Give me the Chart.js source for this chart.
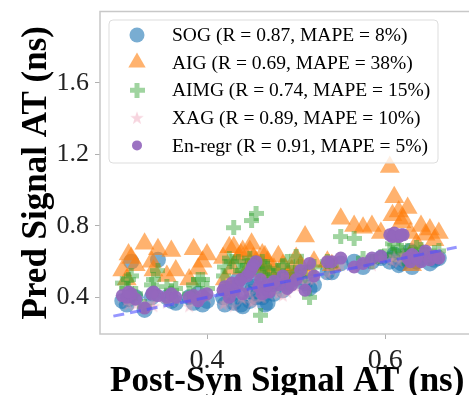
<!DOCTYPE html>
<html>
<head>
<meta charset="utf-8">
<script src="https://cdn.jsdelivr.net/npm/chart.js@4.4.1/dist/chart.umd.min.js"></script>
<style>
  html, body { margin: 0; padding: 0; overflow: hidden; background: #fff; }
  #wrap { width: 469px; height: 395px; overflow: hidden; }
</style>
</head>
<body>
<div id="wrap"><canvas id="chart" width="486" height="395"></canvas></div>
<script>
// ground truth (post-syn signal AT, ns) shared by every model
var postSyn = [0.305,0.31,0.315,0.32,0.33,0.34,0.345,0.355,0.36,0.38,0.385,0.39,0.40,
  0.42,0.425,0.43,0.435,0.44,0.445,0.45,0.455,0.46,0.465,0.47,0.48,0.49,0.50,0.505,0.51,0.515,
  0.54,0.55,0.565,0.575,0.585,0.595,0.605,0.61,0.615,0.62,0.625,0.63,0.64,0.645,0.65,0.655,
  0.312,0.338,0.365,0.395,0.418,0.428,0.438,0.448,0.452,0.458,0.462,0.468,0.475,0.485,0.495,
  0.52,0.535,0.608,0.618,0.628,0.635,0.66]

// predictions per model, same order as postSyn
var predSOG = [0.38,0.36,0.60,0.40,0.33,0.42,0.61,0.40,0.38,0.40,0.37,0.42,0.38,
  0.36,0.45,0.37,0.50,0.35,0.47,0.43,0.40,0.52,0.36,0.44,0.50,0.47,0.52,0.49,0.48,0.45,
  0.54,0.59,0.60,0.57,0.60,0.62,0.60,0.64,0.58,0.61,0.63,0.57,0.62,0.64,0.59,0.61,
  0.39,0.40,0.37,0.36,0.40,0.42,0.36,0.38,0.46,0.41,0.40,0.37,0.42,0.44,0.50,
  0.47,0.54,0.62,0.59,0.66,0.60,0.62]
var predAIG = [0.55,0.50,0.62,0.58,0.70,0.55,0.67,0.52,0.66,0.50,0.67,0.56,0.64,
  0.50,0.68,0.68,0.62,0.66,0.55,0.70,0.60,0.58,0.63,0.54,0.63,0.52,0.62,0.58,0.74,0.55,
  0.58,0.84,0.80,0.79,0.80,0.76,1.13,0.96,0.88,0.84,0.90,0.58,0.80,0.75,0.78,0.72,
  0.64,0.60,0.55,0.60,0.62,0.56,0.64,0.66,0.62,0.57,0.64,0.60,0.56,0.58,0.55,
  0.60,0.60,0.86,0.82,0.76,0.70,0.76]
var predAIMG = [0.48,0.45,0.52,0.42,0.35,0.50,0.55,0.46,0.44,0.42,0.47,0.50,0.45,
  0.57,0.62,0.79,0.60,0.55,0.58,0.83,0.87,0.30,0.57,0.50,0.55,0.60,0.63,0.57,0.52,0.40,
  0.58,0.74,0.73,0.62,0.60,0.63,0.66,0.64,0.68,0.62,0.66,0.63,0.67,0.64,0.62,0.65,
  0.50,0.47,0.45,0.50,0.52,0.60,0.55,0.62,0.58,0.54,0.60,0.56,0.52,0.58,0.54,
  0.57,0.60,0.70,0.66,0.64,0.68,0.66]
var predXAG = [0.40,0.38,0.42,0.36,0.36,0.35,0.40,0.37,0.38,0.35,0.38,0.41,0.40,
  0.37,0.42,0.35,0.45,0.39,0.44,0.37,0.46,0.40,0.47,0.42,0.42,0.43,0.46,0.50,0.48,0.50,
  0.55,0.58,0.57,0.60,0.58,0.62,0.61,0.63,0.60,0.64,0.62,0.65,0.63,0.66,0.62,0.64,
  0.36,0.37,0.39,0.42,0.36,0.44,0.40,0.42,0.38,0.44,0.40,0.45,0.43,0.41,0.47,
  0.50,0.53,0.60,0.62,0.64,0.62,0.65]
var predEnRegr = [0.41,0.40,0.42,0.39,0.34,0.43,0.41,0.40,0.42,0.40,0.41,0.38,0.42,
  0.46,0.40,0.44,0.48,0.42,0.52,0.56,0.60,0.50,0.45,0.43,0.47,0.45,0.50,0.55,0.44,0.59,
  0.60,0.62,0.57,0.59,0.62,0.63,0.75,0.76,0.74,0.75,0.62,0.64,0.60,0.66,0.61,0.63,
  0.43,0.42,0.40,0.41,0.44,0.48,0.50,0.54,0.58,0.46,0.42,0.47,0.49,0.52,0.47,
  0.52,0.60,0.74,0.75,0.60,0.62,0.62]

var idealLine = [0.295, 0.68]
var xTicks = [0.4, 0.6]
var yTicks = [0.4, 0.8, 1.2, 1.6]

var labels = [
    'SOG (R = 0.87, MAPE = 8%)'
  , 'AIG (R = 0.69, MAPE = 38%)'
  , 'AIMG (R = 0.74, MAPE = 15%)'
  , 'XAG (R = 0.89, MAPE = 10%)'
  , 'En-regr (R = 0.91, MAPE = 5%)'
]

var serif = "'Liberation Serif', 'Times New Roman', serif"

// filled markers that chart.js does not have
function plusMarker(color) {
  var c = document.createElement('canvas'), s = 15, t = 5
  c.width = s; c.height = s
  var g = c.getContext('2d')
  g.fillStyle = color
  g.fillRect((s - t) / 2, 0, t, s)
  g.fillRect(0, (s - t) / 2, (s - t) / 2, t)
  g.fillRect((s + t) / 2, (s - t) / 2, (s - t) / 2, t)
  return c
}

function starMarker(color) {
  var c = document.createElement('canvas'), s = 14
  c.width = s; c.height = s
  var g = c.getContext('2d')
  g.fillStyle = color
  g.beginPath()
  for (var i = 0; i < 10; i++) {
    var r = i % 2 ? 2.8 : 7, a = -Math.PI / 2 + i * Math.PI / 5
    g.lineTo(s / 2 + r * Math.cos(a), s / 2 + 0.5 + r * Math.sin(a))
  }
  g.closePath()
  g.fill()
  return c
}

function toPoints(ys) {
  return postSyn.map(function (x, i) { return { x: x, y: ys[i] } })
}

var datasets = [
    { label: labels[0], data: toPoints(predSOG), order: 5, pointStyle: 'circle', pointRadius: 8,
      backgroundColor: 'rgba(31,119,180,0.6)', borderWidth: 0 }
  , { label: labels[1], data: toPoints(predAIG), order: 4, pointStyle: 'triangle', pointRadius: 11.5,
      backgroundColor: 'rgba(255,127,14,0.6)', borderWidth: 0 }
  , { label: labels[2], data: toPoints(predAIMG), order: 3, pointStyle: plusMarker('rgba(44,160,44,0.45)'),
      backgroundColor: 'rgba(44,160,44,0.45)', borderWidth: 0 }
  , { label: labels[3], data: toPoints(predXAG), order: 2, pointStyle: starMarker('rgba(235,150,175,0.4)'),
      backgroundColor: 'rgba(235,150,175,0.4)', borderWidth: 0 }
  , { label: labels[4], data: toPoints(predEnRegr), order: 1, pointStyle: 'circle', pointRadius: 6.5,
      backgroundColor: 'rgba(148,103,189,0.92)', borderWidth: 0 }
  , { type: 'line', label: 'ideal', data: idealLine.map(function (v) { return { x: v, y: v } }), order: 0,
      borderColor: 'rgba(80,80,255,0.6)', borderWidth: 3, borderDash: [11, 6], pointRadius: 0, fill: false }
]

var legendRadius = [7.5, 10, 6, 6, 5]

var framePlugin = {
  id: 'frame',
  beforeDatasetsDraw: function (chart) {
    var a = chart.chartArea, c = chart.ctx
    c.save()
    c.strokeStyle = '#c8c8c8'
    c.lineWidth = 1.5
    c.strokeRect(a.left, a.top, a.right - a.left + 10, a.bottom - a.top)
    c.restore()
  }
}

var legendPlugin = {
  id: 'boxLegend',
  afterDraw: function (chart) {
    var c = chart.ctx
      , left = 109, top = 20, w = 329, h = 143
      , rowH = 27.6
    c.save()
    c.fillStyle = 'rgba(255,255,255,0.8)'
    c.strokeStyle = '#dddddd'
    c.lineWidth = 1
    c.beginPath()
    c.roundRect(left, top, w, h, 4)
    c.fill()
    c.stroke()
    c.font = '19.5px ' + serif
    c.textBaseline = 'middle'
    for (var i = 0; i < 5; i++) {
      var ds = chart.data.datasets[i]
        , y = top + 15 + i * rowH
      c.fillStyle = ds.backgroundColor
      Chart.helpers.drawPoint(c, {
          pointStyle: ds.pointStyle
        , radius: legendRadius[i]
        , rotation: 0
        , borderWidth: 0
      }, 137, y)
      c.fillStyle = '#000'
      c.fillText(ds.label, 172, y + 1)
    }
    c.restore()
  }
}

new Chart(document.getElementById('chart'), {
    type: 'scatter'
  , data: { datasets: datasets }
  , plugins: [framePlugin, legendPlugin]
  , options: {
      responsive: false
    , animation: false
    , devicePixelRatio: 1
    , layout: { padding: { top: 10, right: 0, left: 0, bottom: 0 } }
    , plugins: { legend: { display: false }, tooltip: { enabled: false } }
    , scales: {
        x: {
          type: 'linear', min: 0.28, max: 0.70
        , afterFit: function (s) { s.height = 61; s.paddingLeft = 0; s.paddingRight = 0 }
        , afterBuildTicks: function (s) { s.ticks = xTicks.map(function (v) { return { value: v } }) }
        , grid: { drawOnChartArea: false, tickLength: 5, color: '#b0b0b0' }
        , border: { display: false }
        , ticks: { color: '#222', padding: 5, font: { family: serif, size: 28 },
            callback: function (v) { return v.toFixed(1) } }
        , title: { display: true, text: 'Post-Syn Signal AT (ns)', color: '#000',
            padding: { top: 0, bottom: -4 }, font: { family: serif, size: 35, weight: 'bold', lineHeight: 1 } }
        }
      , y: {
          type: 'linear', min: 0.195, max: 2.0
        , afterFit: function (s) { s.width = 100; s.paddingTop = 0; s.paddingBottom = 0 }
        , afterBuildTicks: function (s) { s.ticks = yTicks.map(function (v) { return { value: v } }) }
        , grid: { drawOnChartArea: false, tickLength: 5, color: '#b0b0b0' }
        , border: { display: false }
        , ticks: { color: '#222', padding: 6, font: { family: serif, size: 26 },
            callback: function (v) { return v.toFixed(1) } }
        , title: { display: true, text: 'Pred Signal AT (ns)', color: '#000',
            padding: { top: 16, bottom: 0 }, font: { family: serif, size: 35, weight: 'bold' } }
        }
      }
    }
})
</script>
</body>
</html>
